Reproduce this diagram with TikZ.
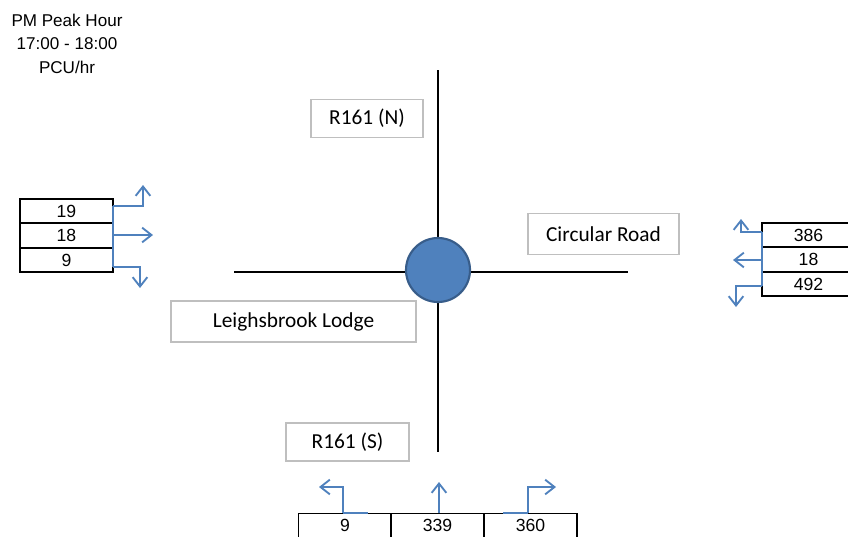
\documentclass[tikz,border=0pt]{standalone}
\usepackage{fontspec}
\setmainfont{Liberation Sans}
\newfontfamily\labelfont{Carlito}
\usetikzlibrary{arrows.meta}
\definecolor{flowblue}{HTML}{4F81BD}
\definecolor{rbfill}{HTML}{4F81BD}
\definecolor{rbedge}{HTML}{385D8A}
\definecolor{boxgrey}{HTML}{BFBFBF}
\tikzset{
  road/.style={draw=black, line width=1.4pt},
  roadname/.style={draw=boxgrey, line width=1.2pt, fill=white, inner sep=0pt,
    font=\labelfont\fontsize{16}{19}\selectfont},
  cell/.style={draw=black, line width=1.1pt, inner sep=0pt,
    minimum width=69.75pt, minimum height=18.3pt,
    font=\fontsize{13.2}{15}\selectfont},
  flow/.style={draw=flowblue, line width=1.4pt},
  flowarrow/.style={flow, -{Straight Barb[length=7pt,width=11pt,line width=1.4pt]}},
  title/.style={inner sep=0pt, font=\fontsize{12.8}{14}\selectfont}
}
\begin{document}
\begin{tikzpicture}[x=0.75pt, y=-0.75pt]
  \useasboundingbox (0,0) rectangle (848,536);

  % period heading
  \node[title] (hdA) at (67,20) {PM Peak Hour};
  \node[title] (hdB) at (67,44) {17:00 - 18:00};
  \node[title] (hdC) at (67,67) {PCU/hr};

  % road arms
  \coordinate (armN) at (438,70);
  \coordinate (armS) at (438,452);
  \coordinate (armW) at (234,272);
  \coordinate (armE) at (628,272);
  \draw[road] (armN) -- (armS);
  \draw[road] (armW) -- (armE);

  % roundabout
  \node[circle, fill=rbfill, draw=rbedge, line width=1.6pt,
        minimum size=48pt, inner sep=0pt] (rb) at (438,270) {};

  % arm names
  \node[roadname, minimum width=84pt, minimum height=28.5pt] (nmN) at (367,118.5) {R161 (N)};
  \node[roadname, minimum width=113pt, minimum height=31pt] (nmE) at (603.5,234) {Circular Road};
  \node[roadname, minimum width=183.5pt, minimum height=30.5pt] (nmW) at (293.5,321.5) {Leighsbrook Lodge};
  \node[roadname, minimum width=92pt, minimum height=28.5pt] (nmS) at (347.5,442) {R161 (S)};

  % west approach counts
  \node[cell] (wL) at (66.5,211) {19};
  \node[cell] (wA) at (66.5,235.5) {18};
  \node[cell] (wR) at (66.5,260) {9};
  \coordinate (wT) at (113,206);
  \coordinate (wM) at (113,235);
  \coordinate (wB) at (113,267);
  \coordinate (wLk) at (143,206);
  \coordinate (wLe) at (143,185);
  \coordinate (wAe) at (153,235);
  \coordinate (wRk) at (140,267);
  \coordinate (wRe) at (140,288);
  \draw[flow] (wT) -- (wB);
  \draw[flowarrow] (wT) -- (wLk) -- (wLe);
  \draw[flowarrow] (wM) -- (wAe);
  \draw[flowarrow] (wB) -- (wRk) -- (wRe);

  % east approach counts
  \node[cell] (eR) at (808.5,235) {386};
  \node[cell] (eA) at (808.5,259.5) {18};
  \node[cell] (eL) at (808.5,284) {492};
  \coordinate (eT) at (762,232);
  \coordinate (eM) at (762,260);
  \coordinate (eB) at (762,286);
  \coordinate (eRk) at (741,232);
  \coordinate (eRe) at (741,219);
  \coordinate (eAe) at (733,260);
  \coordinate (eLk) at (736,286);
  \coordinate (eLe) at (736,307);
  \draw[flow] (eT) -- (eB);
  \draw[flowarrow] (eT) -- (eRk) -- (eRe);
  \draw[flowarrow] (eM) -- (eAe);
  \draw[flowarrow] (eB) -- (eLk) -- (eLe);

  % south approach counts
  \node[cell] (sL) at (345,525.5) {9};
  \node[cell] (sA) at (437.5,525.5) {339};
  \node[cell] (sR) at (530.5,525.5) {360};
  \coordinate (sLs) at (343,513);
  \coordinate (sLt) at (368,513);
  \coordinate (sLk) at (343,487);
  \coordinate (sLe) at (319,487);
  \coordinate (sAs) at (439,513);
  \coordinate (sAe) at (439,482);
  \coordinate (sRs) at (528,513);
  \coordinate (sRt) at (503,513);
  \coordinate (sRk) at (528,487);
  \coordinate (sRe) at (556,487);
  \draw[flow] (sLs) -- (sLt);
  \draw[flow] (sRt) -- (sRs);
  \draw[flowarrow] (sLs) -- (sLk) -- (sLe);
  \draw[flowarrow] (sAs) -- (sAe);
  \draw[flowarrow] (sRs) -- (sRk) -- (sRe);
\end{tikzpicture}
\end{document}
